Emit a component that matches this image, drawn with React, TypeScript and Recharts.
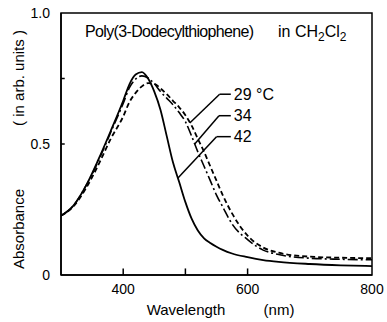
import React from "react";
import {
  LineChart,
  Line,
  XAxis,
  YAxis,
  ReferenceArea,
  ReferenceLine,
  ReferenceDot,
  Customized,
} from "recharts";

const wavelengths = [300, 320, 340, 360, 380, 400, 410, 420, 430, 440, 450, 460, 470, 480, 490, 500, 510, 520, 530, 540, 550, 560, 575, 600, 625, 650, 700, 750, 800];
const abs29 = [0.226, 0.262, 0.33, 0.42, 0.52, 0.605, 0.66, 0.695, 0.72, 0.732, 0.73, 0.712, 0.69, 0.665, 0.64, 0.61, 0.57, 0.52, 0.47, 0.415, 0.36, 0.305, 0.235, 0.15, 0.105, 0.085, 0.07, 0.066, 0.064];
const abs34 = [0.226, 0.265, 0.34, 0.435, 0.545, 0.655, 0.715, 0.748, 0.76, 0.752, 0.73, 0.7, 0.675, 0.65, 0.62, 0.585, 0.53, 0.47, 0.415, 0.36, 0.305, 0.26, 0.195, 0.135, 0.095, 0.078, 0.064, 0.06, 0.058];
const abs42 = [0.226, 0.265, 0.34, 0.44, 0.55, 0.665, 0.728, 0.765, 0.774, 0.75, 0.7, 0.63, 0.53, 0.43, 0.355, 0.278, 0.215, 0.17, 0.14, 0.122, 0.108, 0.096, 0.082, 0.068, 0.057, 0.05, 0.042, 0.037, 0.034];

const xTickLabels = [400, 600, 800];
const xMinorTicks = [400, 500, 600];
const yTickLabels = [0, 0.5, 1];
const yMinorTicks = [0.5, 0.75];

// annotation labels: [text, label x (nm), label y, elbow x (nm), tip x (nm), tip y]
const annotations: [string, number, number, number, number, number][] = [
  ["29 \u00B0C", 573, 0.69, 555, 507, 0.58],
  ["34", 573, 0.608, 554, 515, 0.5],
  ["42", 573, 0.528, 550, 488, 0.37],
];

const rows = wavelengths.map((w, i) => ({ w, a29: abs29[i], a34: abs34[i], a42: abs42[i] }));

const sans = '"Liberation Sans", Arial, sans-serif';

const Texts = () => (
  <g>
    <text x={85} y={37} fontFamily={sans} fontSize={16} letterSpacing={-0.65} fill="#000">
      Poly(3-Dodecylthiophene)
    </text>
    <text x={278} y={37} fontFamily={sans} fontSize={16} fill="#000">
      in CH
      <tspan fontSize={12} dy={4}>2</tspan>
      <tspan dy={-4}>Cl</tspan>
      <tspan fontSize={12} dy={4}>2</tspan>
    </text>
    <text
      x={18}
      y={229}
      transform="rotate(-90, 18, 229)"
      textAnchor="middle"
      dominantBaseline="central"
      fontFamily={sans}
      fontSize={15}
      fill="#000"
    >
      Absorbance
    </text>
    <text
      x={18}
      y={78}
      transform="rotate(-90, 18, 78)"
      textAnchor="middle"
      dominantBaseline="central"
      fontFamily={sans}
      fontSize={15}
      fill="#000"
    >
      ( in arb. units )
    </text>
    <text x={186} y={309} textAnchor="middle" dominantBaseline="central" fontFamily={sans} fontSize={15} fill="#000">
      Wavelength
    </text>
    <text x={279} y={309} textAnchor="middle" dominantBaseline="central" fontFamily={sans} fontSize={15} fill="#000">
      (nm)
    </text>
  </g>
);

export default function App() {
  return (
    <div style={{ position: "absolute", left: 0, top: 0, width: 387, height: 322, background: "#fff" }}>
      <LineChart width={387} height={322} data={rows} margin={{ top: 13, right: 15, left: 0, bottom: 0 }}>
        <XAxis
          dataKey="w"
          type="number"
          domain={[300, 800]}
          ticks={xTickLabels}
          tickLine={false}
          tickSize={0}
          tickMargin={9}
          height={47}
          axisLine={{ stroke: "#000", strokeWidth: 1.5 }}
          tick={{ fill: "#000", fontSize: 14, fontFamily: sans }}
          allowDataOverflow
        />
        <YAxis
          type="number"
          domain={[0, 1]}
          ticks={yTickLabels}
          tickFormatter={(v: number) => (v === 0 ? "0" : v === 1 ? "1.0" : String(v))}
          tickLine={false}
          tickSize={0}
          tickMargin={11}
          width={61}
          axisLine={{ stroke: "#000", strokeWidth: 1.5 }}
          tick={{ fill: "#000", fontSize: 14, fontFamily: sans }}
          allowDataOverflow
        />
        <ReferenceArea x1={300} x2={800} y1={0} y2={1} fill="none" stroke="#000" strokeWidth={1.5} ifOverflow="visible" />
        {xMinorTicks.map((t) => (
          <ReferenceLine key={"xt" + t} segment={[{ x: t, y: 0 }, { x: t, y: 0.025 }]} stroke="#000" strokeWidth={1.5} />
        ))}
        {yMinorTicks.map((t) => (
          <ReferenceLine key={"yt" + t} segment={[{ x: 300, y: t }, { x: 306, y: t }]} stroke="#000" strokeWidth={1.5} />
        ))}
        <Line dataKey="a29" type="monotone" stroke="#000" strokeWidth={1.8} strokeDasharray="5 3" dot={false} isAnimationActive={false} />
        <Line dataKey="a34" type="monotone" stroke="#000" strokeWidth={1.6} strokeDasharray="10 3 2 3" dot={false} isAnimationActive={false} />
        <Line dataKey="a42" type="monotone" stroke="#000" strokeWidth={1.8} dot={false} isAnimationActive={false} />
        {annotations.map(([label, lx, ly, ex, tx, ty]) => (
          <React.Fragment key={label}>
            <ReferenceLine segment={[{ x: lx, y: ly }, { x: ex, y: ly }]} stroke="#000" strokeWidth={1.5} />
            <ReferenceLine segment={[{ x: ex, y: ly }, { x: tx, y: ty }]} stroke="#000" strokeWidth={1.5} />
            <ReferenceDot
              x={lx}
              y={ly}
              r={0}
              fill="none"
              stroke="none"
              label={{ value: label, position: "right", offset: 3, fill: "#000", fontSize: 16, fontFamily: sans }}
            />
          </React.Fragment>
        ))}
        <Customized component={Texts} />
      </LineChart>
    </div>
  );
}
